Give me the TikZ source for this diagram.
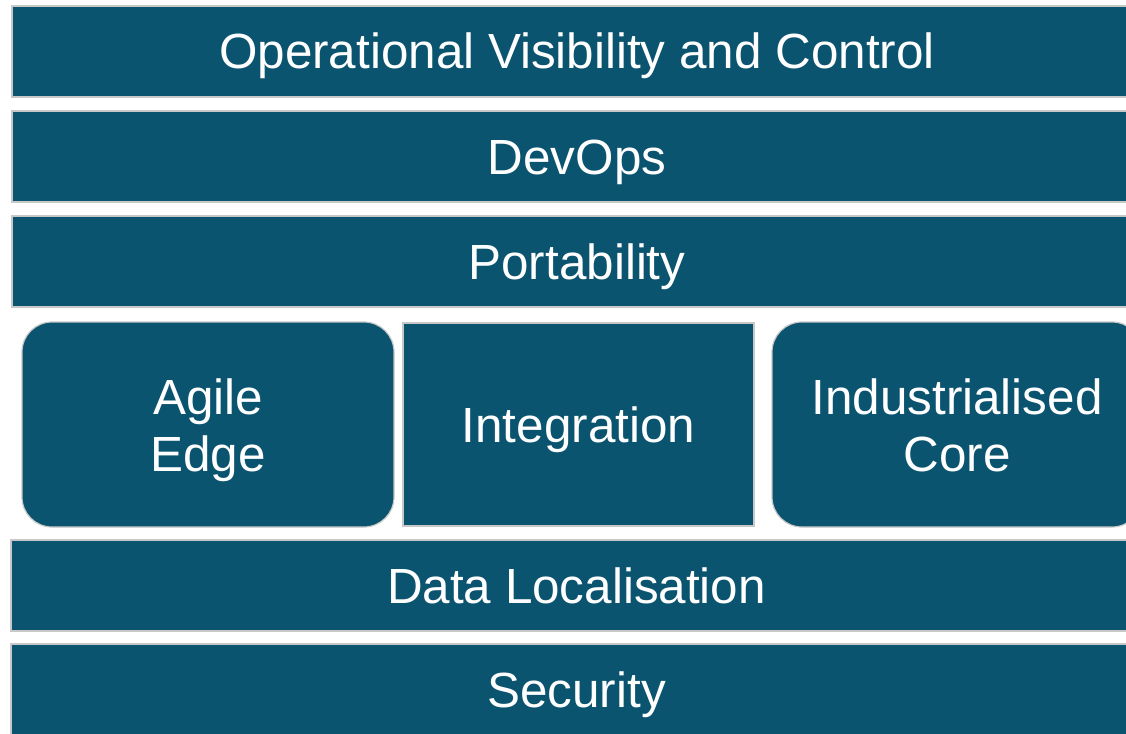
\documentclass[tikz,border=0pt]{standalone}
\usepackage{fontspec}
\setmainfont{Liberation Sans}
\definecolor{layerblue}{RGB}{11,84,112}
\definecolor{layeredge}{RGB}{200,200,200}
\tikzset{
  layer/.style={fill=layerblue, draw=layeredge, line width=1.2pt,
    inner sep=0pt, text=white, font=\fontsize{49.4}{57}\selectfont,
    text height=35pt, text depth=0pt},
  pillar/.style={layer, rounded corners=30pt},
  caption/.style={text=white, font=\fontsize{49.4}{57}\selectfont,
    align=center, inner sep=0pt},
}
\begin{document}
\begin{tikzpicture}[x=1pt, y=-1pt]
  \useasboundingbox (0,0) rectangle (1126,733);
  \fill[white] (0,0) rectangle (1126,733);

  % horizontal layers, top to bottom
  \node[layer, minimum width=1130pt, minimum height=91pt] (ovc)
    at (577,51.5) {Operational Visibility and Control};
  \node[layer, minimum width=1130pt, minimum height=91pt] (devops)
    at (577,156.5) {DevOps};
  \node[layer, minimum width=1130pt, minimum height=91pt] (port)
    at (577,261.5) {Portability};

  % middle row of three pillars
  \node[pillar, minimum width=372pt, minimum height=205pt] (agile)
    at (208,424.5) {};
  \node[layer, minimum width=351pt, minimum height=203pt] (integ)
    at (578.5,424.5) {Integration};
  \node[pillar, minimum width=370pt, minimum height=205pt] (core)
    at (957,424.5) {};
  \node[caption] (agiletext) at (208,430) {Agile\\Edge};
  \node[caption] (coretext) at (957,425) {Industrialised\\Core};

  % lower layers
  \node[layer, minimum width=1131pt, minimum height=91pt] (data)
    at (576.5,585.5) {Data Localisation};
  \node[layer, minimum width=1131pt, minimum height=91pt] (sec)
    at (576.5,689.5) {Security};
\end{tikzpicture}
\end{document}
